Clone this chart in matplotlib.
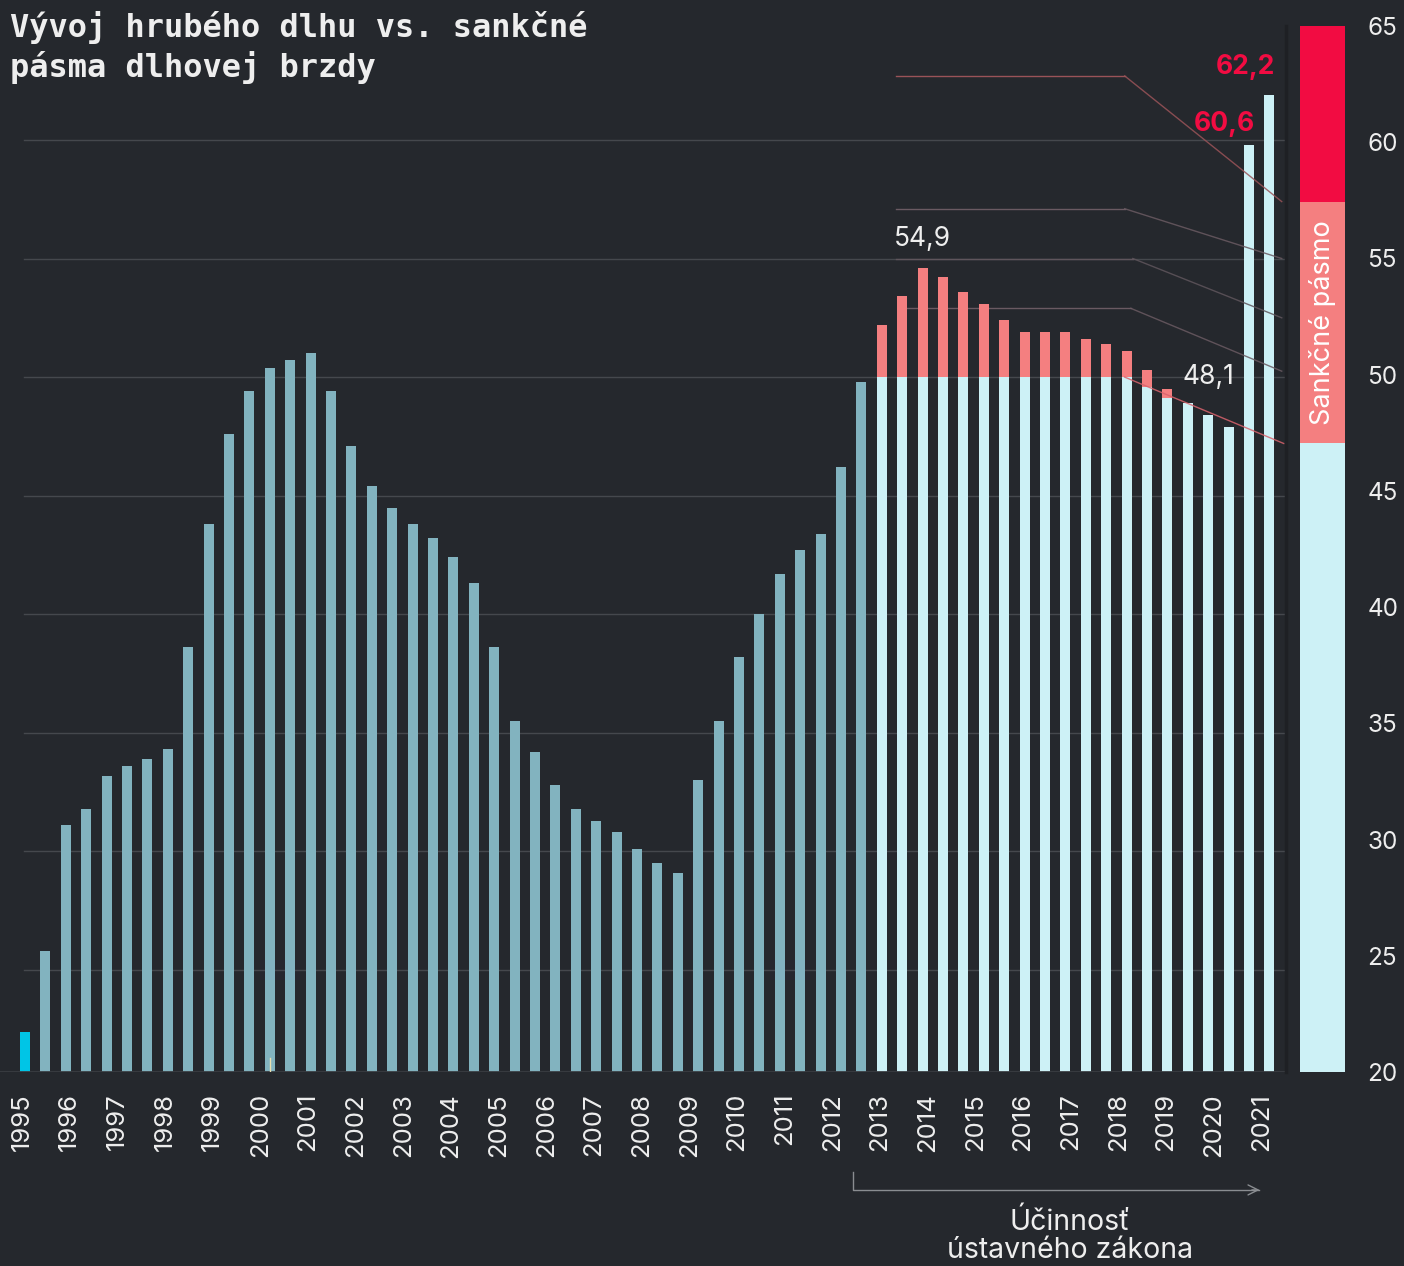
import numpy as np
import matplotlib.pyplot as plt
from matplotlib.lines import Line2D

# hruby dlh (% HDP), polrocne hodnoty odcitane z grafu
dlh = [22.4, 25.8, 31.1, 31.8, 33.2, 33.6, 33.9, 34.3, 38.6, 43.8,
       47.6, 49.4, 50.4, 50.7, 51.0, 49.4, 47.1, 45.4, 44.5, 43.8,
       43.2, 42.4, 41.3, 38.6, 35.5, 34.2, 32.8, 31.8, 31.3, 30.8,
       30.1, 29.5, 29.1, 33.0, 35.5, 38.2, 40.0, 41.7, 42.7, 43.4,
       46.2, 49.8, 52.2, 53.4, 54.6, 54.2, 53.6, 53.1, 52.4, 51.9,
       51.9, 51.9, 51.6, 51.4, 51.1, 50.3, 49.5, 48.9, 48.4, 47.9,
       59.8, 61.9]
# cast nad hranicou sankcneho pasma (od 2013)
zaciatok_zakona = 42
nad_hranicou = [2.2, 3.4, 4.6, 4.2, 3.6, 3.1, 2.4, 1.9, 1.9, 1.9, 1.6, 1.4, 1.1, 0.7, 0.4]
roky = [str(r) for r in range(1995, 2022)]

# sankcne pasma: (x zaciatok, x zlom, x koniec, uroven, koniec uroven, farba)
pasma = [(42.7, 53.9, 61.6, 62.7, 57.4, '#9a5358'),
         (42.7, 53.9, 61.6, 57.1, 55.0, '#6a5a62'),
         (42.7, 54.3, 61.6, 55.0, 52.5, '#5f555c'),
         (43.2, 54.2, 61.6, 52.9, 50.25, '#6a5a62'),
         (53.9, 53.9, 61.7, 50.0, 47.2, '#d9636d')]
legenda = [(20, 47.07, '#cdf1f6'), (47.07, 57.43, '#f47f80'), (57.43, 65, '#f20c42')]
hodnoty_osi = list(range(20, 66, 5))

bg = '#25282d'
teal = '#82b3bf'
light = '#cdf1f6'
salmon = '#f47f80'
red = '#f20c42'
txt = '#eeeeee'
font = ['Inter', 'DejaVu Sans']

fig = plt.figure(figsize=(14.04, 12.66), dpi=100, facecolor=bg)
ax = fig.add_axes([0, 194 / 1266, 1285 / 1404, 1072 / 1266])
ax.set_facecolor(bg)

x = np.arange(len(dlh))
dlh = np.array(dlh)
n = len(dlh)

# gridlines
for g in range(25, 61, 5):
    ax.plot([-0.05, 61.8], [g, g], color='#45484d', lw=1, zorder=1)

farby = ['#00c5e6'] + [teal] * (zaciatok_zakona - 1) + [light] * (n - zaciatok_zakona)
nad = np.zeros(n)
nad[zaciatok_zakona:zaciatok_zakona + len(nad_hranicou)] = nad_hranicou
zaklad = dlh - nad
ax.bar(x, zaklad, width=0.49, color=farby, zorder=2)
ax.bar(x, nad, bottom=zaklad, width=0.49, color=salmon, zorder=2)

# hranice pasiem: vodorovna cast za stlpcami, sikma cez ne
for x0, x1, x2, y1, y2, c in pasma:
    ax.plot([x0, x1], [y1, y1], color=c, lw=1, zorder=1.5)
    ax.plot([x1, x2], [y1, y2], color=c, lw=1, zorder=3, alpha=0.85)

ax.axhline(20.72, color='#3a3d42', lw=2, zorder=4)
ax.plot([12, 12], [20.7, 21.3], color='#e8e0b0', lw=1, zorder=5)

ax.set_xlim(-1.23, 61.76)
ax.set_ylim(20.7, 65.9)
for s in ax.spines.values():
    s.set_visible(False)
ax.set_yticks([])
ax.set_xticks(np.linspace(-0.15, 60.6, len(roky)), roky, rotation=90, va='top',
              fontsize=18.5, color=txt, family=font)
ax.tick_params(axis='x', length=0, pad=15)

# popisky hodnot
ax.annotate('54,9', (44, dlh[44]), xytext=(0, 29), textcoords='offset pixels',
            ha='center', va='center', fontsize=19, color=txt, family=font)
ax.annotate('48,1', (58, dlh[58]), xytext=(0, 38), textcoords='offset pixels',
            ha='center', va='center', fontsize=19, color=txt, family=font)
ax.annotate('60,6', (60.28, dlh[60]), xytext=(0, 21), textcoords='offset pixels',
            ha='right', va='center', fontsize=19, color=red, fontweight='bold', family=font)
ax.annotate('62,2', (61.28, dlh[61]), xytext=(0, 28), textcoords='offset pixels',
            ha='right', va='center', fontsize=19, color=red, fontweight='bold', family=font)

# ucinnost zakona
tr = ax.get_xaxis_transform()
ax.plot([40.6, 40.6, 60.5], [-0.093, -0.110, -0.110], color='#8a8d91', lw=1,
        transform=tr, clip_on=False)
ax.annotate('', xy=(60.65, -0.110), xytext=(60.0, -0.110), xycoords=tr, textcoords=tr,
            arrowprops=dict(arrowstyle='->', color='#8a8d91', lw=1, mutation_scale=18))
ax.text(51.2, -0.153, 'Účinnosť\nústavného zákona', transform=tr, ha='center', va='center',
        fontsize=20.5, color=txt, family=font, linespacing=1.05)

# deliaca ciara
fig.add_artist(Line2D([1286 / 1404] * 2, [1 - 26 / 1266, 194 / 1266],
                      transform=fig.transFigure, color='#1e2024', lw=2.5))

# legenda sankcnych pasiem
lax = fig.add_axes([1300 / 1404, 194 / 1266, 45 / 1404, 1046 / 1266])
lax.set_facecolor(bg)
for lo, hi, c in legenda:
    lax.bar(0, hi - lo, bottom=lo, width=1, color=c)
lax.set_xlim(-0.5, 0.5)
lax.set_ylim(20, 65)
for s in lax.spines.values():
    s.set_visible(False)
lax.set_xticks([])
lax.yaxis.tick_right()
lax.set_yticks(hodnoty_osi, [str(v) for v in hodnoty_osi], fontsize=17.5, color=txt, family=font)
lax.tick_params(axis='y', length=0, pad=16)
lax.text(0, 52.25, 'Sankčné pásmo', rotation=90, ha='center', va='center',
         fontsize=19.5, color='white', family=font)

fig.text(10 / 1404, 1 - 28 / 1266, 'Vývoj hrubého dlhu vs. sankčné', ha='left', va='center',
         fontsize=23, fontweight='bold', family='DejaVu Sans Mono', color=txt)
fig.text(10 / 1404, 1 - 67 / 1266, 'pásma dlhovej brzdy', ha='left', va='center',
         fontsize=23, fontweight='bold', family='DejaVu Sans Mono', color=txt)

fig.savefig('out.png', dpi=100, facecolor=bg)
